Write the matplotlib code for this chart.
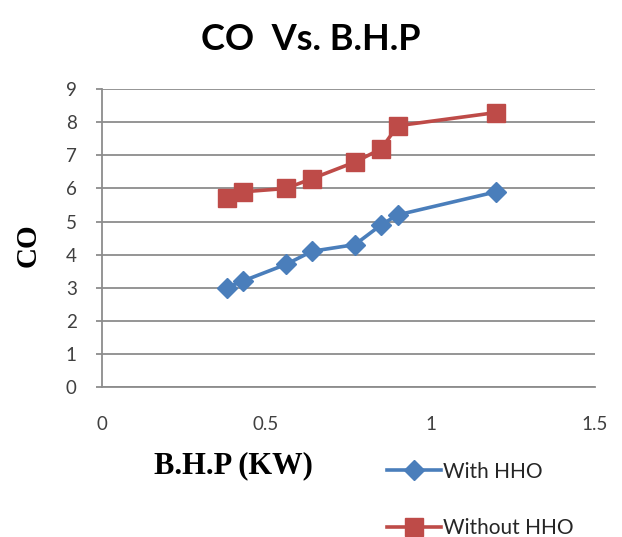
import matplotlib
matplotlib.use("agg")
import matplotlib.pyplot as plt

# data
bhp = [0.38, 0.43, 0.56, 0.64, 0.77, 0.85, 0.90, 1.20]
co_with_hho = [3.0, 3.2, 3.7, 4.1, 4.3, 4.9, 5.2, 5.9]
co_without_hho = [5.7, 5.9, 6.0, 6.3, 6.8, 7.2, 7.9, 8.3]
x_ticks = [0, 0.5, 1, 1.5]
x_tick_labels = ["0", "0.5", "1", "1.5"]
y_ticks = list(range(0, 10))

blue = "#4A7EBB"
red = "#BE4B48"
grid_gray = "#8C8C8C"

fig = plt.figure(figsize=(6.22, 5.37), dpi=100)
ax = fig.add_axes([0.1635, 0.280, 0.793, 0.5535])

ax.plot(bhp, co_with_hho, color=blue, lw=2.6, marker="D", ms=10,
        markeredgecolor=blue, label="With HHO", zorder=3)
ax.plot(bhp, co_without_hho, color=red, lw=2.6, marker="s", ms=13,
        markeredgecolor=red, label="Without HHO", zorder=3)

ax.set_xlim(0, 1.5)
ax.set_ylim(0, 9)
ax.set_xticks(x_ticks)
ax.set_xticklabels(x_tick_labels)
ax.set_yticks(y_ticks)

ax.yaxis.grid(True, color=grid_gray, lw=1.3)
ax.set_axisbelow(True)
for side in ["top", "right"]:
    ax.spines[side].set_visible(False)
for side in ["left", "bottom"]:
    ax.spines[side].set_color(grid_gray)
    ax.spines[side].set_linewidth(1.3)

ax.tick_params(axis="y", length=4, color=grid_gray, width=1.3, pad=14,
               labelsize=13.5, labelcolor="#404040")
ax.tick_params(axis="x", length=0, pad=21, labelsize=13.5, labelcolor="#404040")
for lbl in ax.get_xticklabels() + ax.get_yticklabels():
    lbl.set_family("Lato")

fig.text(0.5, 1 - 40 / 537, "CO  Vs. B.H.P", ha="center", va="center",
         family="Lato", fontweight="bold", fontsize=26)
fig.text(28 / 622, 1 - 245 / 537, "CO", rotation=90, ha="center", va="center",
         family="Liberation Serif", fontweight="bold", fontsize=21)
fig.text(233 / 622, 1 - 466 / 537, "B.H.P (KW)", ha="center", va="center",
         family="Liberation Serif", fontweight="bold", fontsize=22)

leg = fig.legend(loc="upper left", bbox_to_anchor=(368 / 622, 1 - 443 / 537),
                 frameon=False, handlelength=2.6, handletextpad=0.1,
                 labelspacing=1.75, prop={"family": "Lato", "size": 15})
for t in leg.get_texts():
    t.set_color("#262626")

fig.savefig("out.png", dpi=100)
plt.close(fig)
